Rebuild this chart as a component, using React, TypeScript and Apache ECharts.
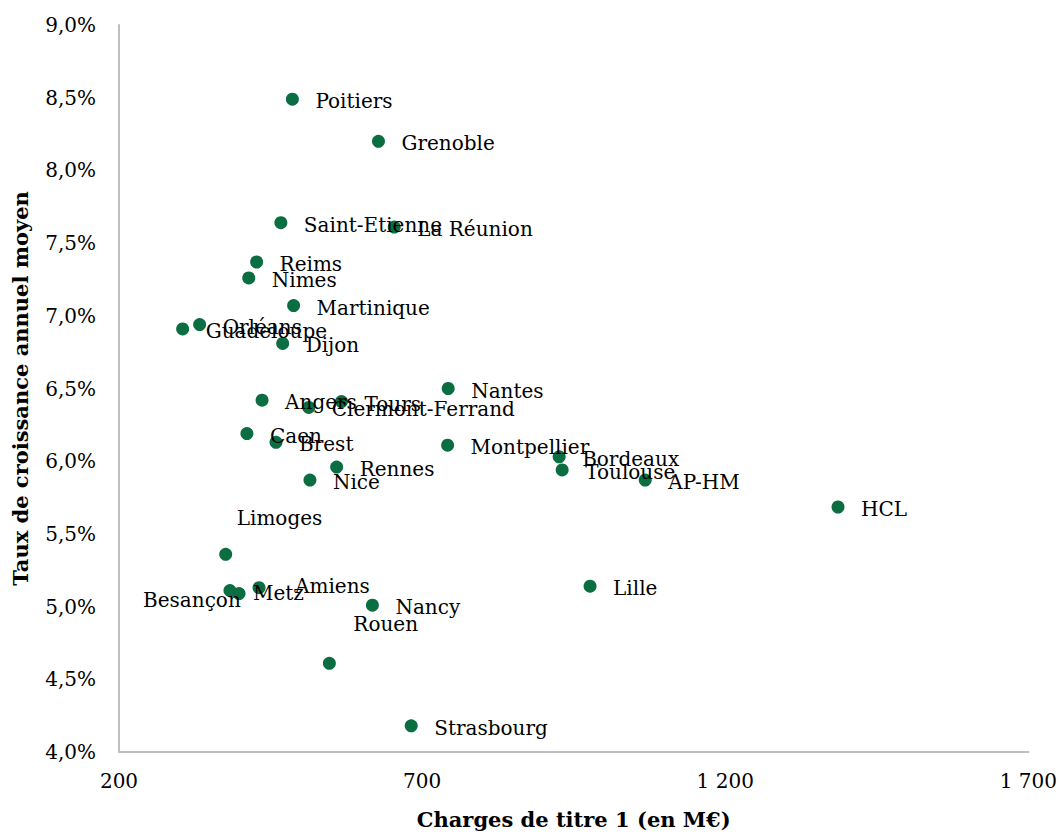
import React, { useEffect, useRef } from "react";
import * as echarts from "echarts";

const names = [
  "Poitiers", "Grenoble", "Saint-Etienne", "La Réunion", "Reims", "Nimes", "Martinique",
  "Orléans", "Guadeloupe", "Dijon", "Nantes", "Angers", "Tours", "Clermont-Ferrand",
  "Caen", "Brest", "Montpellier", "Bordeaux", "Toulouse", "Rennes", "Nice", "AP-HM",
  "HCL", "Limoges", "Metz", "Besançon", "Amiens", "Lille", "Nancy", "Rouen", "Strasbourg",
];
const charges = [
  486, 628, 467, 654, 427, 414, 488,
  333, 305, 470, 743, 436, 567, 513,
  411, 459, 742, 926, 931, 559, 515, 1068,
  1386, 376, 383, 398, 431, 977, 618, 547, 682,
];
const taux = [
  8.49, 8.2, 7.64, 7.61, 7.37, 7.26, 7.07,
  6.94, 6.91, 6.81, 6.5, 6.42, 6.41, 6.37,
  6.19, 6.13, 6.11, 6.03, 5.94, 5.96, 5.87, 5.87,
  5.685, 5.36, 5.11, 5.09, 5.13, 5.14, 5.01, 4.61, 4.18,
];
const xTicks = [200, 700, 1200, 1700];
const yTicks = [4, 4.5, 5, 5.5, 6, 6.5, 7, 7.5, 8, 8.5, 9];

// label placement tweaks (pixels relative to the point)
const labelShift: Record<string, [number, number]> = {
  Limoges: [11, -36],
  Rouen: [24, -39],
  "Besançon": [-96, 6],
  Amiens: [36, -2],
};
const DEFAULT_SHIFT: [number, number] = [23, 2];
const SYM = 13;

const FONT = "'DejaVu Serif', 'Liberation Serif', serif";

export default function App() {
  const ref = useRef<HTMLDivElement>(null);
  useEffect(() => {
    document.body.style.margin = "0";
    if (!ref.current) return;
    const chart = echarts.init(ref.current, null, { renderer: "svg" });
    const data = names.map((n, i) => {
      const s = labelShift[n] || DEFAULT_SHIFT;
      return {
        name: n,
        value: [charges[i], taux[i]],
        label: {
          show: true,
          formatter: n,
          position: [SYM / 2 + s[0], SYM / 2 + s[1]],
          align: "left",
          verticalAlign: "middle",
        },
      };
    });
    chart.setOption({
      animation: false,
      backgroundColor: "#ffffff",
      grid: { left: 119, top: 25, right: 30, bottom: 83, containLabel: false },
      xAxis: {
        type: "value",
        min: 200,
        max: 1700,
        interval: 500,
        name: "Charges de titre 1 (en M€)",
        nameLocation: "middle",
        nameGap: 57,
        nameTextStyle: { fontFamily: FONT, fontSize: 21, fontWeight: "bold", color: "#000" },
        axisLine: { show: true, lineStyle: { color: "#bfbfbf", width: 2 } },
        axisTick: { show: false },
        splitLine: { show: false },
        axisLabel: {
          fontFamily: FONT,
          fontSize: 20,
          color: "#000",
          margin: 19,
          formatter: (v: number) =>
            xTicks.includes(v) ? String(v).replace(/\B(?=(\d{3})+(?!\d))/g, " ") : "",
        },
      },
      yAxis: {
        type: "value",
        min: 4,
        max: 9,
        interval: 0.5,
        name: "Taux de croissance annuel moyen",
        nameLocation: "middle",
        nameGap: 88,
        nameTextStyle: { fontFamily: FONT, fontSize: 21, fontWeight: "bold", color: "#000" },
        axisLine: { show: true, lineStyle: { color: "#bfbfbf", width: 2 } },
        axisTick: { show: false },
        splitLine: { show: false },
        axisLabel: {
          fontFamily: FONT,
          fontSize: 20,
          color: "#000",
          margin: 23,
          formatter: (v: number) =>
            yTicks.some((t) => Math.abs(t - v) < 1e-9) ? v.toFixed(1).replace(".", ",") + "%" : "",
        },
      },
      series: [
        {
          type: "scatter",
          symbol: "circle",
          symbolSize: SYM,
          itemStyle: { color: "#0b6e42", opacity: 1 },
          label: { fontFamily: FONT, fontSize: 20, color: "#000" },
          emphasis: { disabled: true },
          data,
        },
      ],
    });
    return () => chart.dispose();
  }, []);
  return <div ref={ref} style={{ width: 1060, height: 835 }} />;
}
